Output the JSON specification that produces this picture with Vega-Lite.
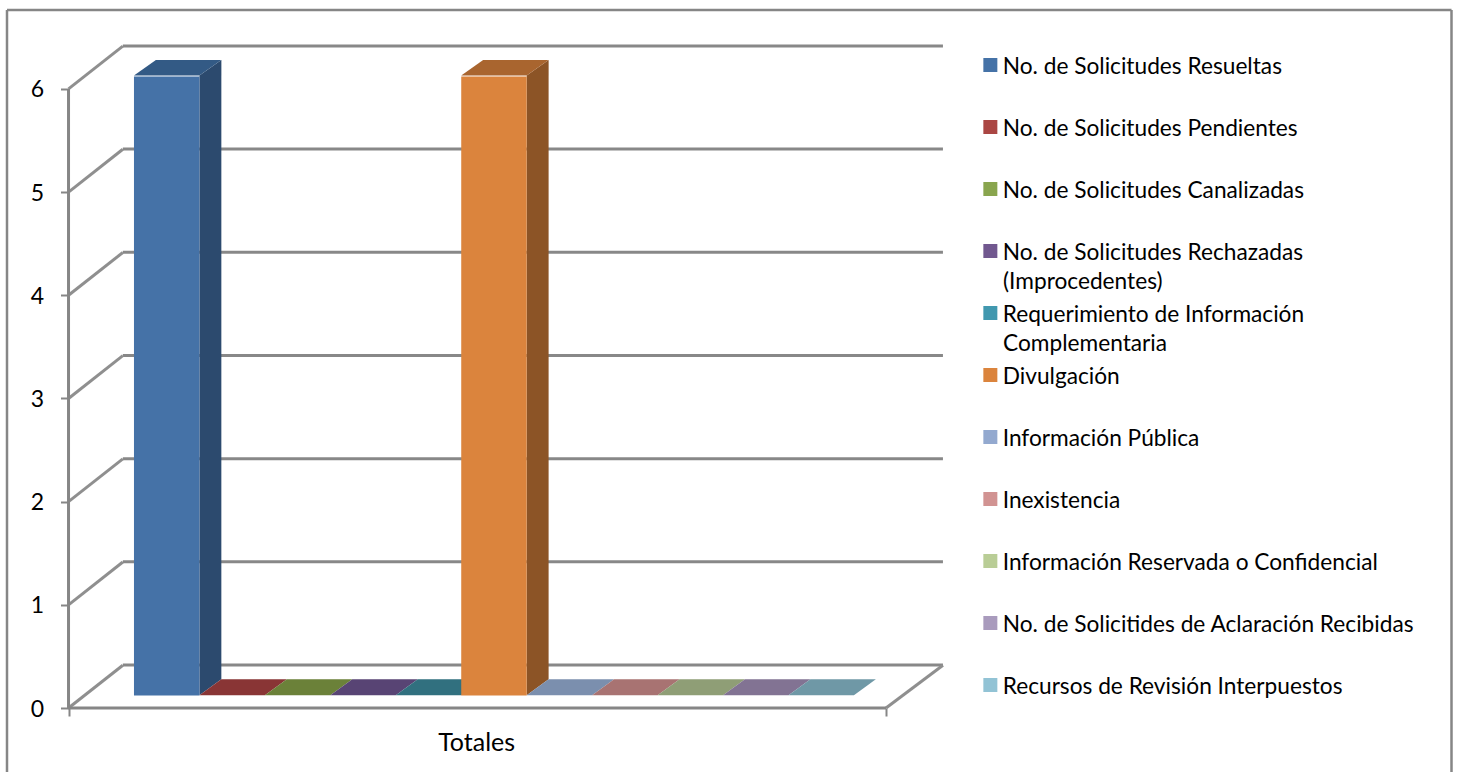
{
"$schema":"https://vega.github.io/schema/vega-lite/v6.json",
"width":1444.5,"height":762,
"autosize":{"type":"none"},
"padding":{"left":7,"top":10,"right":8,"bottom":0},
"background":"#ffffff",
"view":{"stroke":null,"fill":"#ffffff"},
"config":{"font":"Lato"},
"datasets":{
"bars":[
{"series":"No. de Solicitudes Resueltas","value":6,"start":1,"end":2},
{"series":"No. de Solicitudes Pendientes","value":0,"start":2,"end":3},
{"series":"No. de Solicitudes Canalizadas","value":0,"start":3,"end":4},
{"series":"No. de Solicitudes Rechazadas","value":0,"start":4,"end":5},
{"series":"Requerimiento de Información","value":0,"start":5,"end":6},
{"series":"Divulgación","value":6,"start":6,"end":7},
{"series":"Información Pública","value":0,"start":7,"end":8},
{"series":"Inexistencia","value":0,"start":8,"end":9},
{"series":"Información Reservada o Confidencial","value":0,"start":9,"end":10},
{"series":"No. de Solicitides de Aclaración Recibidas","value":0,"start":10,"end":11},
{"series":"Recursos de Revisión Interpuestos","value":0,"start":11,"end":12}
],
"frame":[
{"x":-0.94,"x2":21.13,"y":6.765,"y2":6.765},
{"x":-0.94,"x2":-0.94,"y":6.765,"y2":-0.62},
{"x":21.13,"x2":21.13,"y":6.765,"y2":-0.62}
],
"wall":[
{"x":0.83,"x2":13.36,"y":0},{"x":0.83,"x2":13.36,"y":1},{"x":0.83,"x2":13.36,"y":2},{"x":0.83,"x2":13.36,"y":3},{"x":0.83,"x2":13.36,"y":4},{"x":0.83,"x2":13.36,"y":5},{"x":0.83,"x2":13.36,"y":6}
],
"slant":[
{"x":0,"x2":0.83,"y":0,"y2":0.415},{"x":0,"x2":0.83,"y":1,"y2":1.415},{"x":0,"x2":0.83,"y":2,"y2":2.415},{"x":0,"x2":0.83,"y":3,"y2":3.415},{"x":0,"x2":0.83,"y":4,"y2":4.415},{"x":0,"x2":0.83,"y":5,"y2":5.415},{"x":0,"x2":0.83,"y":6,"y2":6.415},{"x":12.49,"x2":13.36,"y":0,"y2":0.415}
],
"frontline":[{"x":0,"x2":12.49,"y":0,"y2":0},{"x":0,"x2":0,"y":0,"y2":6}],
"top":[
{"key":"t0","y":6.13,"a":1,"b":2},{"key":"t0","y":6.28,"a":1.335,"b":2.335},
{"key":"t1","y":0.125,"a":2,"b":3},{"key":"t1","y":0.28,"a":2.335,"b":3.335},
{"key":"t2","y":0.125,"a":3,"b":4},{"key":"t2","y":0.28,"a":3.335,"b":4.335},
{"key":"t3","y":0.125,"a":4,"b":5},{"key":"t3","y":0.28,"a":4.335,"b":5.335},
{"key":"t4","y":0.125,"a":5,"b":6},{"key":"t4","y":0.28,"a":5.335,"b":6.335},
{"key":"t5","y":6.13,"a":6,"b":7},{"key":"t5","y":6.28,"a":6.335,"b":7.335},
{"key":"t6","y":0.125,"a":7,"b":8},{"key":"t6","y":0.28,"a":7.335,"b":8.335},
{"key":"t7","y":0.125,"a":8,"b":9},{"key":"t7","y":0.28,"a":8.335,"b":9.335},
{"key":"t8","y":0.125,"a":9,"b":10},{"key":"t8","y":0.28,"a":9.335,"b":10.335},
{"key":"t9","y":0.125,"a":10,"b":11},{"key":"t9","y":0.28,"a":10.335,"b":11.335},
{"key":"ta","y":0.125,"a":11,"b":12},{"key":"ta","y":0.28,"a":11.335,"b":12.335}
],
"side":[
{"key":"s0","x":2,"lo":0.125,"hi":6.13},{"key":"s0","x":2.335,"lo":0.28,"hi":6.28},
{"key":"s5","x":7,"lo":0.125,"hi":6.13},{"key":"s5","x":7.335,"lo":0.28,"hi":6.28}
],
"labels":[{"x":6.235,"y":-0.34,"label":"Totales"}],
"wrapped":[{"x":14.278,"y":4.129,"label":"(Improcedentes)"},{"x":14.278,"y":3.528,"label":"Complementaria"}]
},
"layer":[
{"data":{"name":"frame"},"mark":{"type":"rule","color":"#868686","strokeWidth":2.5},
 "encoding":{"x":{"field":"x","type":"quantitative","scale":{"domain":[-0.94,21.13],"nice":false,"zero":false},
   "axis":{"values":[0,6.235,12.49],"offset":-64,"domain":false,"grid":false,"title":null,"tickColor":"#868686","tickWidth":2,"tickSize":8,
     "labelExpr":"''","tickOpacity":{"condition":{"test":"datum.value==6.235","value":0},"value":1}}},
  "x2":{"field":"x2"},
  "y":{"field":"y","type":"quantitative","scale":{"domain":[-0.62,6.765],"nice":false,"zero":false},
   "axis":{"values":[0,1,2,3,4,5,6],"offset":-61.5,"domain":false,"grid":false,"title":null,"tickColor":"#868686","tickWidth":2,"tickSize":8,"labelFontSize":23,"labelColor":"#000000","labelFont":"Lato","labelPadding":17,"labelOffset":1,"format":"d"}},
  "y2":{"field":"y2"}}},
{"data":{"name":"wall"},"mark":{"type":"rule","color":"#888888","strokeWidth":3,"yOffset":-43},
 "encoding":{"x":{"field":"x","type":"quantitative"},"x2":{"field":"x2"},"y":{"field":"y","type":"quantitative"}}},
{"data":{"name":"slant"},"mark":{"type":"rule","color":"#8f8f8f","strokeWidth":3},
 "encoding":{"x":{"field":"x","type":"quantitative"},"x2":{"field":"x2"},"y":{"field":"y","type":"quantitative"},"y2":{"field":"y2"}}},
{"data":{"name":"frontline"},"mark":{"type":"rule","color":"#868686","strokeWidth":3},
 "encoding":{"x":{"field":"x","type":"quantitative"},"x2":{"field":"x2"},"y":{"field":"y","type":"quantitative"},"y2":{"field":"y2"}}},
{"data":{"name":"side"},"mark":{"type":"area","orient":"vertical"},
 "encoding":{"x":{"field":"x","type":"quantitative"},"y":{"field":"lo","type":"quantitative"},"y2":{"field":"hi"},
  "detail":{"field":"key"},
  "color":{"field":"key","type":"nominal","legend":null,"scale":{"domain":["s0","s5","t0","t1","t2","t3","t4","t5","t6","t7","t8","t9","ta"],"range":["#2c4a6e","#8c5426","#335a85","#893535","#6b8139","#584474","#31707f","#a9652f","#7b8fae","#a87372","#8f9e76","#827393","#6f98a6"]}}}},
{"data":{"name":"top"},"mark":{"type":"area","orient":"horizontal"},
 "encoding":{"y":{"field":"y","type":"quantitative"},"x":{"field":"a","type":"quantitative"},"x2":{"field":"b"},
  "detail":{"field":"key"},
  "color":{"field":"key","type":"nominal","legend":null}}},
{"data":{"name":"bars"},"transform":[{"filter":"datum.value>0"}],"mark":{"type":"rect","yOffset":-12.5,"y2Offset":-12.5},
 "encoding":{"x":{"field":"start","type":"quantitative"},"x2":{"field":"end"},"y":{"field":"value","type":"quantitative"},"y2":{"datum":0},
  "fill":{"field":"series","type":"nominal","sort":null,
   "scale":{"domain":["No. de Solicitudes Resueltas","No. de Solicitudes Pendientes","No. de Solicitudes Canalizadas","No. de Solicitudes Rechazadas","Requerimiento de Información","Divulgación","Información Pública","Inexistencia","Información Reservada o Confidencial","No. de Solicitides de Aclaración Recibidas","Recursos de Revisión Interpuestos"],
    "range":["#4572a7","#aa4643","#89a54e","#71588f","#4198af","#db843d","#93a9cf","#d19392","#b9cd96","#a99bbd","#92c3d5"]},
   "legend":{"orient":"none","legendX":972,"legendY":24,"title":null,"columns":1,"symbolType":"square","symbolSize":196,"symbolStrokeWidth":0,"labelFontSize":22.7,"labelFont":"Lato","labelColor":"#000000","labelLimit":460,"rowPadding":0,"labelOffset":1,"clipHeight":62,
    "encode":{"labels":{"update":{"dy":{"value":2}}}}}}}},
{"data":{"name":"labels"},"mark":{"type":"text","fontSize":25,"font":"Lato","color":"#000000","align":"center","baseline":"middle"},
 "encoding":{"x":{"field":"x","type":"quantitative"},"y":{"field":"y","type":"quantitative"},"text":{"field":"label"}}},
{"data":{"name":"wrapped"},"mark":{"type":"text","fontSize":22.7,"font":"Lato","color":"#000000","align":"left","baseline":"middle"},
 "encoding":{"x":{"field":"x","type":"quantitative"},"y":{"field":"y","type":"quantitative"},"text":{"field":"label"}}}
]
}
